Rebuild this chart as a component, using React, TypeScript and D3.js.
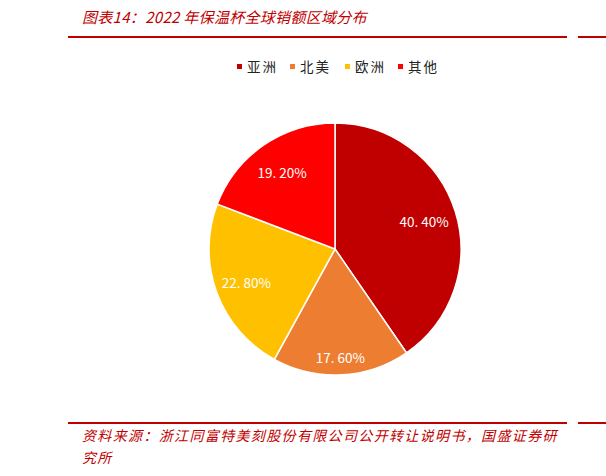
import React from "react";
import * as d3 from "d3";

const regions = ["亚洲", "北美", "欧洲", "其他"];
const shares = [40.4, 17.6, 22.8, 19.2];
const colors = ["#C00000", "#ED7D31", "#FFC000", "#FF0000"];
const labelRadiusFactor = [0.74, 0.86, 0.75, 0.74];

const titleText = "图表14：2022 年保温杯全球销额区域分布";
const sourceLine1 = "资料来源：浙江同富特美刻股份有限公司公开转让说明书，国盛证券研";
const sourceLine2 = "究所";

const W = 606;
const H = 476;
const cx = 335;
const cy = 249;
const R = 126;
const red = "#C00000";
const cjk = "'Noto Sans CJK SC', 'Noto Sans', sans-serif";

export default function App() {
  const pie = d3.pie<number>().sort(null).value((d) => d);
  const arcs = pie(shares);
  const arcGen = d3.arc<d3.PieArcDatum<number>>().innerRadius(0).outerRadius(R);

  const legendX = [237, 290, 345, 398];

  return (
    <svg
      width={W}
      height={H}
      style={{ position: "absolute", left: 0, top: 0, background: "#fff" }}
    >
      <text
        x={82}
        y={23}
        fill={red}
        fontFamily={cjk}
        fontSize={15}
        fontStyle="italic"
        letterSpacing={0.3}
      >
        {titleText}
      </text>
      <line x1={68} x2={567} y1={37} y2={37} stroke={red} strokeWidth={2} />
      <line x1={578} x2={606} y1={37} y2={37} stroke={red} strokeWidth={2} />

      {regions.map((r, i) => (
        <g key={r}>
          <rect x={legendX[i]} y={64} width={5} height={5} fill={colors[i]} />
          <text
            x={legendX[i] + 10}
            y={72}
            fontFamily={cjk}
            fontSize={13.5}
            letterSpacing={2}
            fill="#222"
          >
            {r}
          </text>
        </g>
      ))}

      <g transform={`translate(${cx},${cy})`}>
        {arcs.map((a, i) => (
          <path
            key={i}
            d={arcGen(a) || ""}
            fill={colors[i]}
            stroke="#fff"
            strokeWidth={1.5}
          />
        ))}
        {arcs.map((a, i) => {
          const lr = R * labelRadiusFactor[i];
          const lab = d3
            .arc<d3.PieArcDatum<number>>()
            .innerRadius(lr)
            .outerRadius(lr);
          const [x, y] = lab.centroid(a);
          return (
            <text
              key={"l" + i}
              x={x}
              y={y}
              textAnchor="middle"
              dominantBaseline="central"
              fill="#fff"
              fontFamily={cjk}
              fontSize={13.5}
            >
              {shares[i].toFixed(2).replace(".", ". ") + "%"}
            </text>
          );
        })}
      </g>

      <line x1={68} x2={567} y1={423} y2={423} stroke={red} strokeWidth={2} />
      <line x1={578} x2={606} y1={423} y2={423} stroke={red} strokeWidth={2} />
      <text
        x={82}
        y={441}
        fill={red}
        fontFamily={cjk}
        fontSize={14}
        fontStyle="italic"
        letterSpacing={1.35}
      >
        {sourceLine1}
      </text>
      <text
        x={82}
        y={463}
        fill={red}
        fontFamily={cjk}
        fontSize={14}
        fontStyle="italic"
        letterSpacing={1.35}
      >
        {sourceLine2}
      </text>
    </svg>
  );
}
